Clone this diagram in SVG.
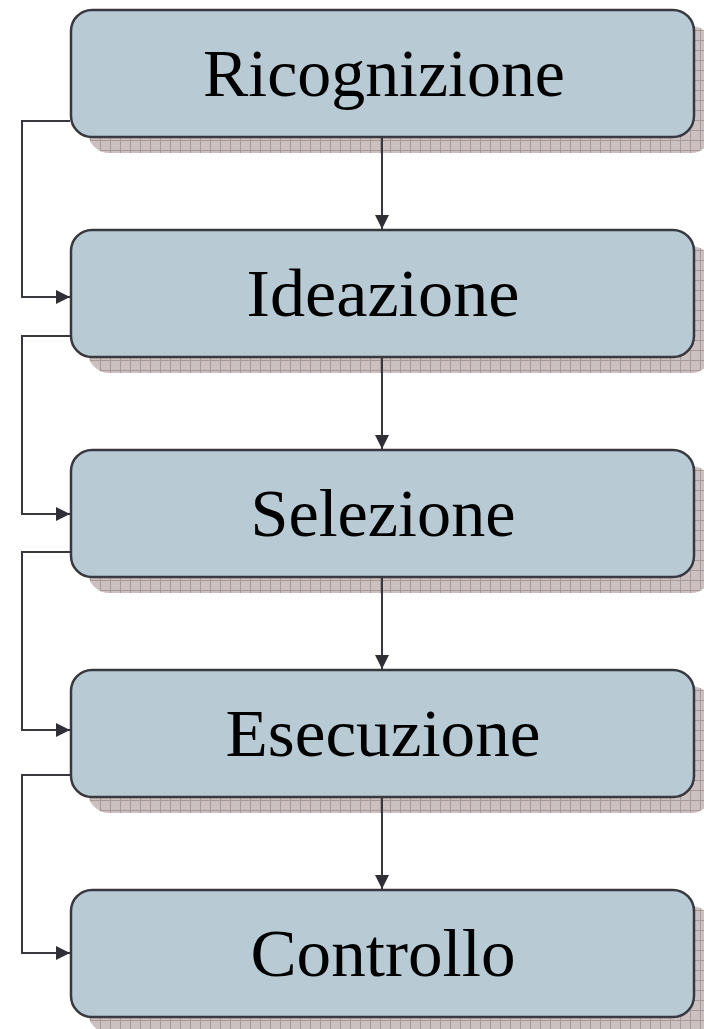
<svg xmlns="http://www.w3.org/2000/svg" width="704" height="1029" viewBox="0 0 704 1029">
  <defs>
    <!-- hatched grid used for the drop shadows -->
    <pattern id="grid" width="10" height="10" patternUnits="userSpaceOnUse">
      <rect width="10" height="10" fill="#cbc1c1"/>
      <path d="M0 0.5H10M0.5 0V10" stroke="#a89898" stroke-width="1" fill="none"/>
    </pattern>
    <marker id="arrow" viewBox="0 0 10 10" refX="10" refY="5" markerWidth="15" markerHeight="14" markerUnits="userSpaceOnUse" orient="auto" overflow="visible">
      <path d="M0 0L10 5L0 10Z" fill="#2f2f35"/>
    </marker>
  </defs>
  <style>
    .shadow { fill: url(#grid); }
    .box { fill: #b8cbd5; stroke: #38383e; stroke-width: 2.5; }
    .label { font-family: "Liberation Serif", "Times New Roman", serif; font-size: 68px; fill: #000; text-anchor: middle; }
    .conn { fill: none; stroke: #38383e; stroke-width: 2; }
  </style>
  <rect width="704" height="1029" fill="#ffffff"/>

  <g id="ricognizione">
    <rect class="shadow" x="88" y="26" width="624" height="127" rx="21"/>
    <rect class="box" x="71" y="10" width="623" height="127" rx="21"/>
    <text class="label" x="384" y="96" textLength="362" lengthAdjust="spacingAndGlyphs">Ricognizione</text>
  </g>
  <g id="ideazione">
    <rect class="shadow" x="88" y="246" width="624" height="127" rx="21"/>
    <rect class="box" x="71" y="230" width="623" height="127" rx="21"/>
    <text class="label" x="383" y="316" textLength="273" lengthAdjust="spacingAndGlyphs">Ideazione</text>
  </g>
  <g id="selezione">
    <rect class="shadow" x="88" y="466" width="624" height="127" rx="21"/>
    <rect class="box" x="71" y="450" width="623" height="127" rx="21"/>
    <text class="label" x="383" y="536" textLength="265" lengthAdjust="spacingAndGlyphs">Selezione</text>
  </g>
  <g id="esecuzione">
    <rect class="shadow" x="88" y="686" width="624" height="127" rx="21"/>
    <rect class="box" x="71" y="670" width="623" height="127" rx="21"/>
    <text class="label" x="383" y="756" textLength="315" lengthAdjust="spacingAndGlyphs">Esecuzione</text>
  </g>
  <g id="controllo">
    <rect class="shadow" x="88" y="906" width="624" height="127" rx="21"/>
    <rect class="box" x="71" y="890" width="623" height="127" rx="21"/>
    <text class="label" x="383" y="976" textLength="265" lengthAdjust="spacingAndGlyphs">Controllo</text>
  </g>

  <!-- connectors, drawn over the shadows -->
  <g id="connectors">
    <path class="conn" d="M382 137V229" marker-end="url(#arrow)"/>
    <path class="conn" d="M382 357V449" marker-end="url(#arrow)"/>
    <path class="conn" d="M382 577V669" marker-end="url(#arrow)"/>
    <path class="conn" d="M382 797V889" marker-end="url(#arrow)"/>
    <path class="conn" d="M70 121H22V297H70" marker-end="url(#arrow)"/>
    <path class="conn" d="M70 336H22V514H70" marker-end="url(#arrow)"/>
    <path class="conn" d="M70 552H22V730H70" marker-end="url(#arrow)"/>
    <path class="conn" d="M70 775H22V953H70" marker-end="url(#arrow)"/>
  </g>
</svg>
